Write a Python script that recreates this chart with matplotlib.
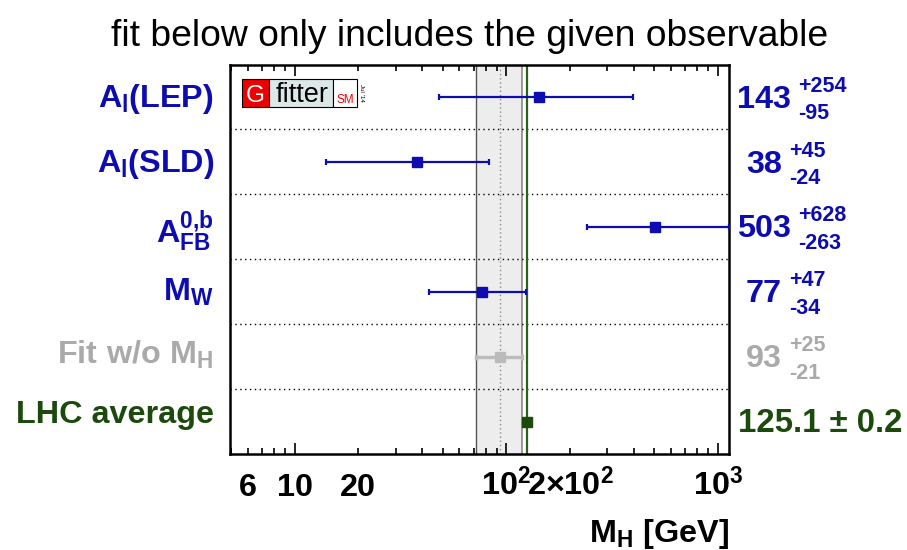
import matplotlib
matplotlib.use('Agg')
import matplotlib.pyplot as plt
from matplotlib.ticker import FixedLocator, NullFormatter
from matplotlib.patches import Rectangle
from matplotlib.transforms import blended_transform_factory

plt.rcParams['font.family'] = ['Liberation Sans', 'DejaVu Sans']
plt.rcParams['mathtext.fontset'] = 'custom'
plt.rcParams['mathtext.rm'] = 'Liberation Sans:bold'
plt.rcParams['mathtext.bf'] = 'Liberation Sans:bold'
plt.rcParams['mathtext.it'] = 'Liberation Sans:bold'

# ---- data ----
labels = [r'$\mathbf{A_{l}(LEP)}$', r'$\mathbf{A_{l}(SLD)}$', r'$\mathbf{A_{FB}^{0{,}b}}$',
          r'$\mathbf{M_{W}}$', r'$\mathbf{Fit\ w/o\ M_{H}}$', 'LHC average']
central = [143, 38, 503, 77, 93, 125.1]
err_up = [254, 45, 628, 47, 25, 0.2]
err_dn = [95, 24, 263, 34, 21, 0.2]
central_txt = ['143', '38', '503', '77', '93']
up_txt = ['+254', '+45', '+628', '+47', '+25']
dn_txt = ['-95', '-24', '-263', '-34', '-21']
lhc_txt = '125.1 ± 0.2'
tick_vals = [6, 10, 20, 100, 200, 1000]
tick_txt = ['6', '10', '20', r'$\mathbf{10^{2}}$', r'$\mathbf{2{\times}10^{2}}$', r'$\mathbf{10^{3}}$']

BLUE = '#0c0cb0'
GRAY = '#aaaaaa'
DGREEN = '#1b4a0c'
LGREEN = '#2a621c'
colors = [BLUE, BLUE, BLUE, BLUE, GRAY, DGREEN]
FS = 23.3

W, H = 907, 550
fig = plt.figure(figsize=(W / 100, H / 100), dpi=100)
L, R, T, B = 230.3, 728.6, 64.5, 454
ax = fig.add_axes([L / W, 1 - B / H, (R - L) / W, (B - T) / H])
ax.set_xscale('log')
ax.set_xlim(4.97, 1122)
n = len(central)
ax.set_ylim(0, n)
rows = [n - 0.5 - i for i in range(n)]
px = (B - T) / n  # pixels per row

# band of fit without MH
fit_i = 4
lo, hi = central[fit_i] - err_dn[fit_i], central[fit_i] + err_up[fit_i]
ax.axvspan(lo, hi, color='#ededed', zorder=0, lw=0)
ax.axvline(lo, color='#555555', lw=1.0, zorder=1)
ax.axvline(hi, color='#8a8a8a', lw=1.2, zorder=1)
ax.axvline(central[fit_i], color='#8a8a8a', lw=1.0, ls=(0, (1, 2)), zorder=1)
ax.axvline(central[5], color=LGREEN, lw=1.6, zorder=2)

# separators
for k in range(1, n):
    ax.axhline(k, color='black', lw=1.0, ls=(0, (1, 2.5)), zorder=1)

for i in range(n):
    c = colors[i]
    if i == 5:
        ax.plot([central[i]], [rows[i]], 's', color=c, ms=7, zorder=5)
        continue
    lw = 2.4 if i == fit_i else 1.6
    cc = '#bbbbbb' if i == fit_i else c
    ax.errorbar(central[i], rows[i], xerr=[[err_dn[i]], [err_up[i]]], fmt='none',
                ecolor=cc, lw=lw, capsize=2.3, capthick=lw, zorder=4)
    ax.plot([central[i]], [rows[i]], 's', color=cc, ms=7.2, zorder=5)

# ticks
ax.xaxis.set_major_locator(FixedLocator([10, 100, 1000]))
minors = [m * d for d in (1, 10, 100) for m in range(2, 10)] + [5]
ax.xaxis.set_minor_locator(FixedLocator(minors))
ax.xaxis.set_major_formatter(NullFormatter())
ax.xaxis.set_minor_formatter(NullFormatter())
ax.tick_params(axis='x', which='both', direction='in', top=True, bottom=True, width=1.2)
ax.tick_params(axis='x', which='major', length=8)
ax.tick_params(axis='x', which='minor', length=4.5)
ax.set_yticks([])
for s in ax.spines.values():
    s.set_linewidth(1.8)

xtr = ax.get_xaxis_transform()
for v, t in zip(tick_vals, tick_txt):
    ax.text(v, -(495.5 - B) / (B - T), t, transform=xtr, ha='center', va='baseline',
            fontsize=FS, fontweight='bold', color='black')

# left labels
lab_off = [10, 10, 15.5, 9.5, 7.5, 1]
for i in range(n):
    ax.text(-(L - 214) / (R - L), rows[i] - lab_off[i] / px, labels[i],
            transform=blended_transform_factory(ax.transAxes, ax.transData),
            ha='right', va='baseline', fontsize=FS, fontweight='bold', color=colors[i])

# right values
fig.canvas.draw()
rend = fig.canvas.get_renderer()
ytr = blended_transform_factory(fig.transFigure, ax.transData)
for i in range(5):
    t = ax.text(764 / W, rows[i] - 10.7 / px, central_txt[i], transform=ytr,
                ha='center', va='baseline', fontsize=FS, fontweight='bold', color=colors[i])
    bb = t.get_window_extent(rend)
    xs = (bb.x1 + 7) / W
    ax.text(xs, rows[i] + 5.3 / px, up_txt[i], transform=ytr, ha='left', va='baseline',
            fontsize=15.5, fontweight='bold', color=colors[i])
    ax.text(xs, rows[i] - 22.5 / px, dn_txt[i], transform=ytr, ha='left', va='baseline',
            fontsize=15.5, fontweight='bold', color=colors[i])
ax.text(738 / W, rows[5] - 10.7 / px, lhc_txt, transform=ytr, ha='left', va='baseline',
        fontsize=FS + 0.5, fontweight='bold', color=DGREEN)

# title and x label
fig.text(470 / W, 1 - 46 / H, 'fit below only includes the given observable',
         ha='center', va='baseline', fontsize=26.8, color='black')
fig.text(R / W, 1 - 542 / H, r'$\mathbf{M_{H}}$ [GeV]', ha='right', va='baseline',
         fontsize=FS, fontweight='bold')

# Gfitter logo
def fig_rect(x0, y0, x1, y1, fc, ec='black', lw=0.8):
    fig.add_artist(Rectangle((x0 / W, 1 - y1 / H), (x1 - x0) / W, (y1 - y0) / H,
                             transform=fig.transFigure, fc=fc, ec=ec, lw=lw, zorder=10))

fig_rect(241.7, 78.5, 269.3, 106.5, '#ee0000')
fig_rect(269.3, 78.5, 333, 106.5, '#dce8e8')
fig_rect(333, 78.5, 356.7, 106.5, 'white')
fig.text(255.5 / W, 1 - 102.5 / H, 'G', ha='center', va='baseline', fontsize=17.5, color='white', zorder=11)
fig.text(302 / W, 1 - 101.7 / H, 'fitter', ha='center', va='baseline', fontsize=19.5, color='black', zorder=11)
fig.text(345.5 / W, 1 - 103.3 / H, 'SM', ha='center', va='baseline', fontsize=8.5, color='#ee0000', zorder=11)
fig.text(362 / W, 1 - 92.5 / H, "Jul '14", ha='center', va='center', fontsize=4.5,
         rotation=-90, color='black', zorder=11)

fig.savefig('out.png', dpi=100)
